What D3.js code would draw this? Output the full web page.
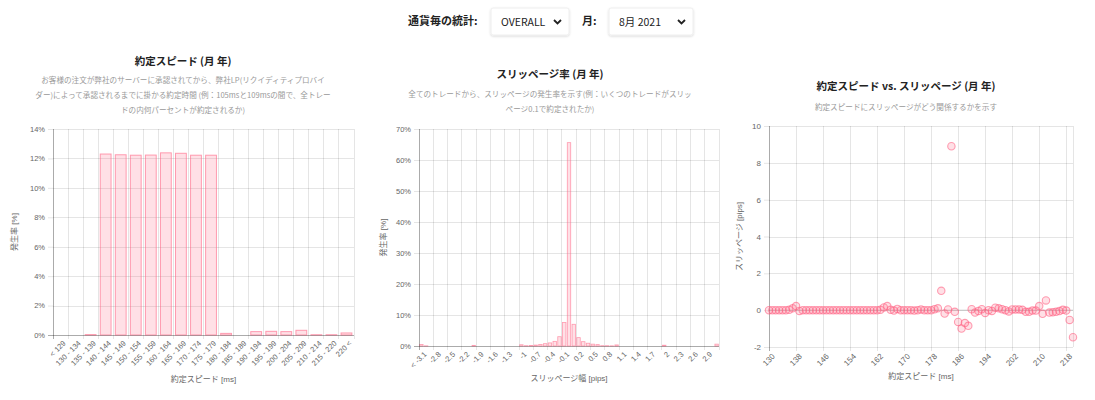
<!DOCTYPE html>
<html lang="ja">
<head>
<meta charset="UTF-8">
<title>約定統計</title>
<script src="https://cdn.jsdelivr.net/npm/d3@7"></script>
<style>
  body { margin: 0; background: #fff; }
  svg text { font-family: "Helvetica Neue", Helvetica, Arial, "Noto Sans CJK JP", sans-serif; }
  .jp { font-family: "Noto Sans CJK JP", sans-serif !important; }
  .axis text { fill: #666; font-size: 7.5px; }
  .axis path { display: none; }
  .axis line { stroke: rgba(0,0,0,0.1); }
  .grid line { stroke: rgba(0,0,0,0.1); shape-rendering: crispEdges; }
  .grid path { display: none; }
  .base { stroke: rgba(0,0,0,0.25); shape-rendering: crispEdges; }
  .title { font-size: 10.5px; font-weight: bold; fill: #222; }
  .desc { font-size: 7.6px; fill: #999; }
  .atitle { font-size: 8px; fill: #666; }
</style>
</head>
<body>
<script>
// ---- データ ----
// 約定スピード
const speedCats = ['< 129', '130 - 134', '135 - 139', '140 - 144', '145 - 149', '150 - 154',
  '155 - 159', '160 - 164', '165 - 169', '170 - 174', '175 - 179', '180 - 184', '185 - 189',
  '190 - 194', '195 - 199', '200 - 204', '205 - 209', '210 - 214', '215 - 220', '220 <'];
const speedRate = [0, 0, 0.03, 12.3, 12.25, 12.22, 12.23, 12.38, 12.35, 12.22, 12.22, 0.11, 0,
  0.23, 0.25, 0.23, 0.32, 0.02, 0.02, 0.14];
const speedTicks = [0, 2, 4, 6, 8, 10, 12, 14];

// スリッページ率
const slipCats = ['< -3.1', '-3', '-2.9', '-2.8', '-2.7', '-2.6', '-2.5', '-2.4', '-2.3', '-2.2',
  '-2.1', '-2', '-1.9', '-1.8', '-1.7', '-1.6', '-1.5', '-1.4', '-1.3', '-1.2', '-1.1', '-1',
  '-0.9', '-0.8', '-0.7', '-0.6', '-0.5', '-0.4', '-0.3', '-0.2', '-0.1', '0', '0.1', '0.2',
  '0.3', '0.4', '0.5', '0.6', '0.7', '0.8', '0.9', '1', '1.1', '1.2', '1.3', '1.4', '1.5',
  '1.6', '1.7', '1.8', '1.9', '2', '2.1', '2.2', '2.3', '2.4', '2.5', '2.6', '2.7', '2.8',
  '2.9', '3', '3.1 <'];
const slipRate = [0.5, 0.05, 0, 0, 0, 0, 0, 0, 0, 0,
  0, 0.2, 0, 0, 0, 0, 0, 0, 0, 0,
  0, 0.4, 0.1, 0.15, 0.3, 0.5, 0.75, 1.0, 1.5, 3.0,
  7.6, 65.6, 7.0, 2.7, 1.4, 0.9, 0.6, 0.45, 0.1, 0.1,
  0.05, 0.35, 0, 0, 0, 0, 0, 0, 0, 0,
  0, 0.25, 0, 0, 0, 0, 0, 0, 0, 0,
  0, 0, 0.6];
const slipTicks = [0, 10, 20, 30, 40, 50, 60, 70];

// 約定スピード vs. スリッページ
const scatterSpeed = [130, 131, 132, 133, 134, 135, 136, 137, 138, 139,
  140, 141, 142, 143, 144, 145, 146, 147, 148, 149,
  150, 151, 152, 153, 154, 155, 156, 157, 158, 159,
  160, 161, 162, 163, 164, 165, 166, 167, 168, 169,
  170, 171, 172, 173, 174, 175, 176, 177, 178, 179,
  180, 181, 182, 183, 184, 185, 186, 187, 188, 189,
  190, 191, 192, 193, 194, 195, 196, 197, 198, 199,
  200, 201, 202, 203, 204, 205, 206, 207, 208, 209,
  210, 211, 212, 213, 214, 215, 216, 217, 218, 219, 220];
const scatterSlip = [0, 0, 0, 0, 0, 0, 0.02, 0.1, 0.22, -0.04,
  0, 0, 0, 0, 0, 0, 0, 0, 0, 0,
  0, 0, 0, 0, 0, 0, 0, 0, 0, 0,
  0, 0, 0, 0.02, 0.15, 0.22, 0.02, -0.02, 0.07, 0,
  0, 0, 0, -0.02, 0, 0.03, 0, 0, 0, 0.05,
  0.1, 1.05, -0.18, 0.04, 8.9, -0.09, -0.64, -1.0, -0.7, -0.85,
  0.05, -0.13, -0.04, 0.05, -0.15, 0, -0.04, 0.13, 0.1, 0.05,
  0, -0.07, 0.04, 0.04, 0.04, 0.02, -0.09, -0.09, -0.02, -0.02,
  0.22, -0.2, 0.53, -0.13, -0.11, -0.09, -0.05, 0.02, -0.02, -0.53, -1.47];
const scatterXTicks = [130, 138, 146, 154, 162, 170, 178, 186, 194, 202, 210, 218];
const scatterYTicks = [-2, 0, 2, 4, 6, 8, 10];

const fillPink = 'rgba(255,99,132,0.2)';
const strokePink = 'rgba(255,99,132,0.6)';

const svg = d3.select('body').append('svg')
  .attr('width', 1095)
  .attr('height', 400);

// 影
const defs = svg.append('defs');
defs.append('filter').attr('id', 'shadow')
  .attr('x', '-20%').attr('y', '-30%').attr('width', '140%').attr('height', '160%')
  .append('feDropShadow')
  .attr('dx', 0).attr('dy', 1).attr('stdDeviation', 1.2)
  .attr('flood-color', '#000').attr('flood-opacity', 0.15);

// ---- ヘッダー ----
svg.append('text').attr('class', 'jp')
  .attr('x', 408).attr('y', 25)
  .style('font-size', '11px').style('font-weight', 'bold').style('fill', '#222')
  .text('通貨毎の統計:');
svg.append('text').attr('class', 'jp')
  .attr('x', 582).attr('y', 25)
  .style('font-size', '11px').style('font-weight', 'bold').style('fill', '#222')
  .text('月:');

function selectBox(x, w, label) {
  let g = svg.append('g').attr('transform', 'translate(' + x + ',8)');
  g.append('rect')
    .attr('width', w).attr('height', 27).attr('rx', 2)
    .attr('fill', '#fff').attr('stroke', '#eee')
    .attr('filter', 'url(#shadow)');
  g.append('text').attr('class', 'jp')
    .attr('x', 10).attr('y', 18)
    .style('font-size', '10.5px').style('fill', '#222')
    .text(label);
  g.append('path')
    .attr('d', 'M' + (w - 15) + ',12 l3.5,3.5 l3.5,-3.5')
    .attr('fill', 'none').attr('stroke', '#222').attr('stroke-width', 1.8);
}
selectBox(491, 78, 'OVERALL');
selectBox(609, 84, '8月 2021');

// ---- 共通 ----
function heading(cx, titleY, title, lines, descY) {
  svg.append('text').attr('class', 'title jp')
    .attr('x', cx).attr('y', titleY)
    .attr('text-anchor', 'middle')
    .text(title);
  svg.selectAll(null)
    .data(lines)
    .enter()
    .append('text')
    .attr('class', 'desc jp')
    .attr('x', cx)
    .attr('y', function (d, i) { return descY + i * 15; })
    .attr('text-anchor', 'middle')
    .text(function (d) { return d; });
}

function axisTitles(left, right, top, bottom, yTitleX, xTitleY, xTitle, yTitle) {
  svg.append('text').attr('class', 'atitle')
    .attr('x', (left + right) / 2).attr('y', xTitleY)
    .attr('text-anchor', 'middle')
    .text(xTitle);
  svg.append('text').attr('class', 'atitle')
    .attr('transform', 'translate(' + yTitleX + ',' + (top + bottom) / 2 + ') rotate(-90)')
    .attr('text-anchor', 'middle')
    .text(yTitle);
}

function yAxis(y, ticks, left, right, fmt) {
  // 横グリッド
  svg.append('g').attr('class', 'grid')
    .attr('transform', 'translate(' + left + ',0)')
    .call(d3.axisLeft(y).tickValues(ticks).tickSize(-(right - left)).tickFormat(''));
  // 目盛り
  let ax = svg.append('g').attr('class', 'axis')
    .attr('transform', 'translate(' + left + ',0)')
    .call(d3.axisLeft(y).tickValues(ticks).tickSize(5).tickPadding(3).tickFormat(fmt));
  return ax;
}

function rotateLabels(ax, offset) {
  ax.selectAll('text')
    .attr('y', 0).attr('x', 0)
    .attr('dy', '0.7em')
    .attr('transform', 'translate(2,' + offset + ') rotate(-45)')
    .style('text-anchor', 'end');
}

// ---- 約定スピード ----
(function () {
  let left = 53, right = 354, top = 129, bottom = 335;
  heading(183, 65, '約定スピード (月 年)', [
    'お客様の注文が弊社のサーバーに承認されてから、弊社LP(リクイディティプロバイ',
    'ダー)によって承認されるまでに掛かる約定時間 (例：105msと109msの間で、全トレー',
    'ドの内何パーセントが約定されるか)'
  ], 83);

  let x = d3.scaleBand().domain(speedCats).range([left, right]);
  let y = d3.scaleLinear().domain([0, 14]).range([bottom, top]);

  yAxis(y, speedTicks, left, right, function (d) { return d + '%'; });

  // 縦グリッド (区切り)
  let bounds = speedCats.map(function (c) { return x(c); }).concat([x.range()[1]]);
  svg.append('g').attr('class', 'grid')
    .selectAll('line').data(bounds).enter().append('line')
    .attr('x1', function (d) { return d; }).attr('x2', function (d) { return d; })
    .attr('y1', top).attr('y2', bottom + 4);

  let bw = x.bandwidth() * 0.72;
  svg.append('g').selectAll('rect')
    .data(speedRate).enter().append('rect')
    .attr('x', function (d, i) { return x(speedCats[i]) + (x.bandwidth() - bw) / 2; })
    .attr('y', function (d) { return y(d); })
    .attr('width', bw)
    .attr('height', function (d) { return bottom - y(d); })
    .attr('fill', fillPink).attr('stroke', strokePink).attr('stroke-width', 1);

  svg.append('line').attr('class', 'base')
    .attr('x1', left).attr('x2', left).attr('y1', top).attr('y2', bottom + 4);
  svg.append('line').attr('class', 'base')
    .attr('x1', left - 5).attr('x2', right).attr('y1', bottom).attr('y2', bottom);

  let ax = svg.append('g').attr('class', 'axis')
    .attr('transform', 'translate(0,' + bottom + ')')
    .call(d3.axisBottom(x).tickSize(0));
  rotateLabels(ax, 5);

  axisTitles(left, right, top, bottom, 17, 382, '約定スピード [ms]', '発生率 [%]');
})();

// ---- スリッページ率 ----
(function () {
  let left = 419, right = 719, top = 129, bottom = 346;
  heading(550, 78, 'スリッページ率 (月 年)', [
    '全てのトレードから、スリッページの発生率を示す(例：いくつのトレードがスリッ',
    'ページ0.1で約定されたか)'
  ], 97);

  let x = d3.scaleBand().domain(slipCats).range([left, right]);
  let y = d3.scaleLinear().domain([0, 70]).range([bottom, top]);

  yAxis(y, slipTicks, left, right, function (d) { return d + '%'; });

  let shown = slipCats.filter(function (c, i) { return i % 3 === 0; });
  let bounds = shown.map(function (c) { return x(c); }).concat([x.range()[1]]);
  svg.append('g').attr('class', 'grid')
    .selectAll('line').data(bounds).enter().append('line')
    .attr('x1', function (d) { return d; }).attr('x2', function (d) { return d; })
    .attr('y1', top).attr('y2', bottom + 4);

  let bw = x.bandwidth() * 0.72;
  svg.append('g').selectAll('rect')
    .data(slipRate).enter().append('rect')
    .attr('x', function (d, i) { return x(slipCats[i]) + (x.bandwidth() - bw) / 2; })
    .attr('y', function (d) { return y(d); })
    .attr('width', bw)
    .attr('height', function (d) { return bottom - y(d); })
    .attr('fill', fillPink).attr('stroke', strokePink).attr('stroke-width', 0.8);

  svg.append('line').attr('class', 'base')
    .attr('x1', left).attr('x2', left).attr('y1', top).attr('y2', bottom + 4);
  svg.append('line').attr('class', 'base')
    .attr('x1', left - 5).attr('x2', right).attr('y1', bottom).attr('y2', bottom);

  let ax = svg.append('g').attr('class', 'axis')
    .attr('transform', 'translate(0,' + bottom + ')')
    .call(d3.axisBottom(x).tickValues(shown).tickSize(0));
  rotateLabels(ax, 5);

  axisTitles(left, right, top, bottom, 386, 381, 'スリッページ幅 [pips]', '発生率 [%]');
})();

// ---- 約定スピード vs. スリッページ ----
(function () {
  let left = 769, right = 1073, top = 126, bottom = 347;
  heading(906, 90, '約定スピード vs. スリッページ (月 年)', [
    '約定スピードにスリッページがどう関係するかを示す'
  ], 110);

  let x = d3.scaleLinear().domain([130, 220]).range([left, right]);
  let y = d3.scaleLinear().domain([-2, 10]).range([bottom, top]);

  let yax = yAxis(y, scatterYTicks, left, right, function (d) { return d; });
  yax.selectAll('text').style('font-size', '8px');

  svg.append('g').attr('class', 'grid')
    .attr('transform', 'translate(0,' + bottom + ')')
    .call(d3.axisBottom(x).tickValues(scatterXTicks.concat([220])).tickSize(-(bottom - top)).tickFormat(''));
  svg.append('g').attr('class', 'grid')
    .attr('transform', 'translate(0,' + bottom + ')')
    .call(d3.axisBottom(x).tickValues(scatterXTicks).tickSize(4).tickFormat(''));

  svg.append('line').attr('class', 'base')
    .attr('x1', left).attr('x2', left).attr('y1', top).attr('y2', bottom + 4);
  svg.append('line')
    .attr('x1', left).attr('x2', right).attr('y1', y(0)).attr('y2', y(0))
    .attr('stroke', 'rgba(0,0,0,0.18)');

  svg.append('g').selectAll('circle')
    .data(scatterSlip).enter().append('circle')
    .attr('cx', function (d, i) { return x(scatterSpeed[i]); })
    .attr('cy', function (d) { return y(d); })
    .attr('r', 3.7)
    .attr('fill', fillPink).attr('stroke', strokePink).attr('stroke-width', 1.1);

  let ax = svg.append('g').attr('class', 'axis')
    .attr('transform', 'translate(0,' + bottom + ')')
    .call(d3.axisBottom(x).tickValues(scatterXTicks).tickSize(0).tickFormat(function (d) { return d; }));
  ax.selectAll('text').style('font-size', '8px');
  rotateLabels(ax, 6);

  axisTitles(left, right, top, bottom, 742, 379, '約定スピード [ms]', 'スリッページ [pips]');
})();
</script>
</body>
</html>
